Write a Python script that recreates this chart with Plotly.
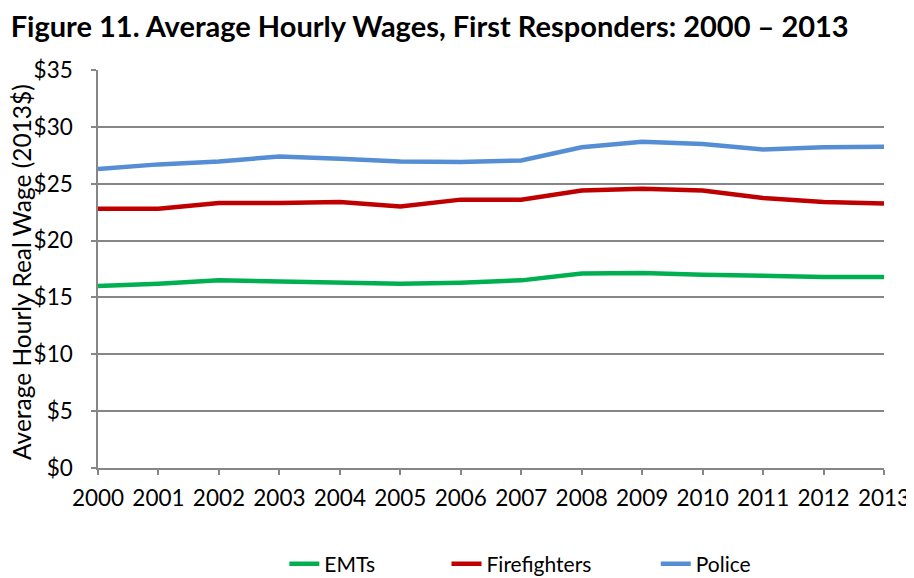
import plotly.graph_objects as go

# ---------------- DATA ----------------
years = list(range(2000, 2014))
emts = [16.0, 16.2, 16.5, 16.4, 16.3, 16.2, 16.3, 16.5, 17.1, 17.15, 17.0, 16.9, 16.8, 16.8]
firefighters = [22.8, 22.8, 23.3, 23.3, 23.4, 23.0, 23.6, 23.6, 24.4, 24.55, 24.4, 23.75, 23.4, 23.25]
police = [26.3, 26.7, 26.95, 27.4, 27.2, 26.95, 26.9, 27.05, 28.2, 28.7, 28.5, 28.0, 28.2, 28.25]

series = [
    ("EMTs", emts, "#00b050", "legend", 0.305),
    ("Firefighters", firefighters, "#c00000", "legend2", 0.484),
    ("Police", police, "#558ed5", "legend3", 0.715),
]

FONT = "Lato"
W, H = 906, 570   # page body has an 8px margin, so keep the figure inside the window

fig = go.Figure()
legends = {}
for name, vals, color, leg, lx in series:
    fig.add_trace(go.Scatter(
        x=years, y=vals, name=name, mode="lines",
        line=dict(color=color, width=4.5),
        legend=leg,
    ))
    legends[leg] = dict(
        x=lx, y=1 - 556 / H, xref="container", yref="container",
        xanchor="left", yanchor="middle",
        orientation="h", bgcolor="rgba(0,0,0,0)",
        font=dict(family=FONT, size=21, color="black"),
        itemwidth=30, tracegroupgap=0,
    )

# y axis title as annotation so the plot area stays fixed
fig.add_annotation(
    text="Average Hourly Real Wage (2013$)",
    x=-76 / 786, xref="paper", xanchor="center",
    y=0.4925, yref="paper", yanchor="middle",
    textangle=-90, showarrow=False,
    font=dict(family=FONT, size=24.5, color="black"),
)

fig.update_layout(
    width=W, height=H,
    plot_bgcolor="white", paper_bgcolor="white",
    margin=dict(l=90, r=30, t=62, b=110),
    title=dict(
        text="<b>Figure 11. Average Hourly Wages, First Responders: 2000 – 2013</b>",
        x=0.003, xanchor="left", y=1 - 19 / H, yanchor="middle",
        font=dict(family=FONT, size=29, color="black"),
    ),
    xaxis=dict(
        range=[2000, 2013], tickvals=years,
        showgrid=False, zeroline=False, automargin=False,
        showline=True, linecolor="#868686", linewidth=1.5,
        ticks="outside", ticklen=5, tickcolor="#868686", tickwidth=1.5,
        tickfont=dict(family=FONT, size=22.5, color="black"),
        ticklabelstandoff=4,
    ),
    yaxis=dict(
        range=[0, 35], tickvals=[0, 5, 10, 15, 20, 25, 30, 35],
        ticktext=["$0", "$5", "$10", "$15", "$20", "$25", "$30", "$35"],
        showgrid=True, gridcolor="#868686", gridwidth=1.5,
        zeroline=False, automargin=False,
        showline=True, linecolor="#868686", linewidth=1.5,
        ticks="outside", ticklen=5, tickcolor="#868686", tickwidth=1.5,
        tickfont=dict(family=FONT, size=22.5, color="black"),
        ticklabelstandoff=14,
    ),
    showlegend=True,
    **legends,
)

fig.write_html("out.html")
